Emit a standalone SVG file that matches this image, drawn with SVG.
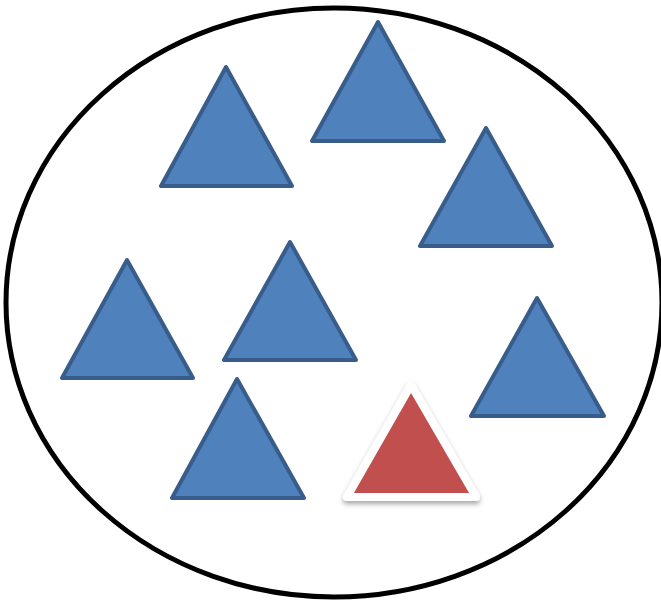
<svg xmlns="http://www.w3.org/2000/svg" width="661" height="600" viewBox="0 0 661 600">
<defs>
<style>
.blue{fill:#4F81BD;stroke:#385D8A;stroke-width:4;stroke-linejoin:round}
.red{fill:#C0504D;stroke:#FFFFFF;stroke-width:8;stroke-linejoin:round}
</style>
<filter id="sh" x="-20%" y="-20%" width="140%" height="140%">
<feDropShadow dx="0" dy="3" stdDeviation="2.5" flood-color="#000" flood-opacity="0.35"/>
</filter>
</defs>
<rect width="661" height="600" fill="#fff"/>
<g id="circle"><ellipse cx="334" cy="302.5" rx="328" ry="294.5" fill="none" stroke="#000" stroke-width="5"/></g>
<g id="t1"><polygon class="blue" points="226,67 161,186 292,186"/></g>
<g id="t2"><polygon class="blue" points="378,22 312,141 444,141"/></g>
<g id="t3"><polygon class="blue" points="486,128 420,246 552,246"/></g>
<g id="t4"><polygon class="blue" points="127,260 62,378 193,378"/></g>
<g id="t5"><polygon class="blue" points="290,242 224,360 356,360"/></g>
<g id="t6"><polygon class="blue" points="537,298 471,416 604,416"/></g>
<g id="t7"><polygon class="blue" points="237,379 172,498 304,498"/></g>
<g id="t8"><polygon class="red" filter="url(#sh)" points="411,385 347,497 476,497"/></g>
<g id="connectors"/>
</svg>
